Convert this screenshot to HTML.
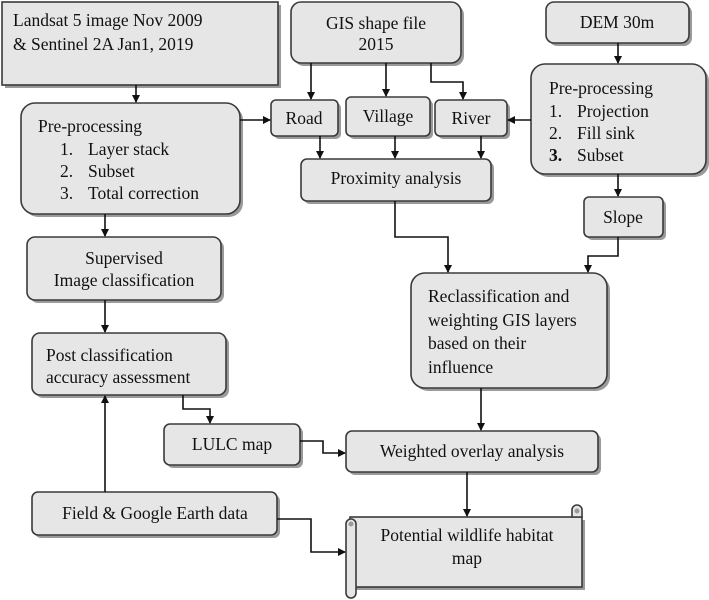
<!DOCTYPE html>
<html><head><meta charset="utf-8"><style>
html,body{margin:0;padding:0;background:#fff;}
svg{display:block;}
text{font-family:"Liberation Serif",serif;font-size:17.5px;fill:#111;}
.b{fill:#e6e6e6;stroke:#3a3a3a;stroke-width:1.6;}
.s{fill:#9a9a9a;}
.l{fill:none;stroke:#111;stroke-width:1.6;}
</style></head><body>
<svg width="709" height="600" viewBox="0 0 709 600" xmlns="http://www.w3.org/2000/svg">
<defs><marker id="a" markerWidth="8" markerHeight="8" refX="7" refY="4" orient="auto" markerUnits="userSpaceOnUse"><path d="M0,0 L8,4 L0,8 z" fill="#111"/></marker></defs>
<!-- shadows -->
<g class="s">
<rect x="5" y="5" width="276" height="83"/>
<rect x="294" y="5" width="170" height="61" rx="10"/>
<rect x="549" y="5" width="143" height="41" rx="8"/>
<rect x="534" y="67" width="175" height="110" rx="14"/>
<rect x="274" y="103" width="67" height="36" rx="5"/>
<rect x="349" y="100" width="84" height="39" rx="5"/>
<rect x="438" y="103" width="72" height="36" rx="5"/>
<rect x="24" y="106" width="219" height="111" rx="14"/>
<rect x="304" y="162" width="190" height="42" rx="6"/>
<rect x="587" y="200" width="79" height="40" rx="5"/>
<rect x="30" y="240" width="194" height="63" rx="8"/>
<rect x="414" y="276" width="196" height="115" rx="14"/>
<rect x="35" y="336" width="194" height="62" rx="8"/>
<rect x="167" y="427" width="136" height="41" rx="6"/>
<rect x="349" y="434" width="252" height="41" rx="6"/>
<rect x="35" y="495" width="245" height="43" rx="6"/>
<rect x="351" y="520" width="234" height="70"/>
</g>
<rect class="b" x="2" y="2" width="276" height="83"/>
<rect class="b" x="291" y="2" width="170" height="61" rx="10"/>
<rect class="b" x="546" y="2" width="143" height="41" rx="8"/>
<rect class="b" x="531" y="64" width="175" height="110" rx="14"/>
<rect class="b" x="271" y="100" width="67" height="36" rx="5"/>
<rect class="b" x="346" y="97" width="84" height="39" rx="5"/>
<rect class="b" x="435" y="100" width="72" height="36" rx="5"/>
<rect class="b" x="21" y="103" width="219" height="111" rx="14"/>
<rect class="b" x="301" y="159" width="190" height="42" rx="6"/>
<rect class="b" x="584" y="197" width="79" height="40" rx="5"/>
<rect class="b" x="27" y="237" width="194" height="63" rx="8"/>
<rect class="b" x="411" y="273" width="196" height="115" rx="14"/>
<rect class="b" x="32" y="333" width="194" height="62" rx="8"/>
<rect class="b" x="164" y="424" width="136" height="41" rx="6"/>
<rect class="b" x="346" y="431" width="252" height="41" rx="6"/>
<rect class="b" x="32" y="492" width="245" height="43" rx="6"/>
<!-- scroll -->
<rect class="b" x="350" y="517" width="232" height="70"/>
<path class="b" d="M572,517 L572,510 a5,5 0 0 1 10,0 L582,517 z"/>
<circle cx="577" cy="511" r="2.5" fill="#999"/>
<path class="b" d="M346,524 a5,5 0 0 1 10,0 L356,593 a5,5 0 0 1 -10,0 z"/>
<circle cx="351" cy="524" r="2.5" fill="#999"/>
<!-- text -->
<text x="13" y="26">Landsat 5   image Nov 2009</text>
<text x="13" y="50">&amp;   Sentinel 2A Jan1, 2019</text>
<text x="376" y="29" text-anchor="middle">GIS shape file</text>
<text x="376" y="50" text-anchor="middle">2015</text>
<text x="617" y="28" text-anchor="middle">DEM 30m</text>
<text x="549" y="94">Pre-processing</text>
<text x="549" y="117">1.</text><text x="577" y="117">Projection</text>
<text x="549" y="139">2.</text><text x="577" y="139">Fill sink</text>
<text x="549" y="161" font-weight="bold">3.</text><text x="577" y="161">Subset</text>
<text x="304" y="124" text-anchor="middle">Road</text>
<text x="388" y="122" text-anchor="middle">Village</text>
<text x="471" y="124" text-anchor="middle">River</text>
<text x="38" y="132">Pre-processing</text>
<text x="60" y="155">1.</text><text x="88" y="155">Layer stack</text>
<text x="60" y="177">2.</text><text x="88" y="177">Subset</text>
<text x="60" y="199">3.</text><text x="88" y="199">Total correction</text>
<text x="396" y="184" text-anchor="middle">Proximity analysis</text>
<text x="623" y="223" text-anchor="middle">Slope</text>
<text x="124" y="264" text-anchor="middle">Supervised</text>
<text x="124" y="286" text-anchor="middle">Image classification</text>
<text x="428" y="302">Reclassification and</text>
<text x="428" y="326">weighting GIS layers</text>
<text x="428" y="349">based on their</text>
<text x="428" y="373">influence</text>
<text x="46" y="361">Post classification</text>
<text x="46" y="383">accuracy assessment</text>
<text x="232" y="450" text-anchor="middle">LULC map</text>
<text x="472" y="457" text-anchor="middle">Weighted overlay analysis</text>
<text x="155" y="519" text-anchor="middle">Field &amp; Google Earth data</text>
<text x="467" y="541" text-anchor="middle">Potential wildlife habitat</text>
<text x="467" y="564" text-anchor="middle">map</text>
<!-- connectors -->
<g class="l">
<path d="M136,85 V102" marker-end="url(#a)"/>
<path d="M240,120 H270" marker-end="url(#a)"/>
<path d="M311,63 V99" marker-end="url(#a)"/>
<path d="M386,63 V96" marker-end="url(#a)"/>
<path d="M431,63 V82 H463 V99" marker-end="url(#a)"/>
<path d="M531,120 H508" marker-end="url(#a)"/>
<path d="M618,43 V63" marker-end="url(#a)"/>
<path d="M320,136 V158" marker-end="url(#a)"/>
<path d="M395,136 V158" marker-end="url(#a)"/>
<path d="M481,136 V158" marker-end="url(#a)"/>
<path d="M618,174 V196" marker-end="url(#a)"/>
<path d="M395,201 V237 H448 V272" marker-end="url(#a)"/>
<path d="M618,237 V256 H588 V272" marker-end="url(#a)"/>
<path d="M105,214 V236" marker-end="url(#a)"/>
<path d="M105,300 V332" marker-end="url(#a)"/>
<path d="M183,395 V409 H210 V423" marker-end="url(#a)"/>
<path d="M300,441 H323 V453 H345" marker-end="url(#a)"/>
<path d="M481,388 V430" marker-end="url(#a)"/>
<path d="M467,472 V516" marker-end="url(#a)"/>
<path d="M105,492 V396" marker-end="url(#a)"/>
<path d="M277,519 H311 V552 H345" marker-end="url(#a)"/>
</g>
</svg>
</body></html>
